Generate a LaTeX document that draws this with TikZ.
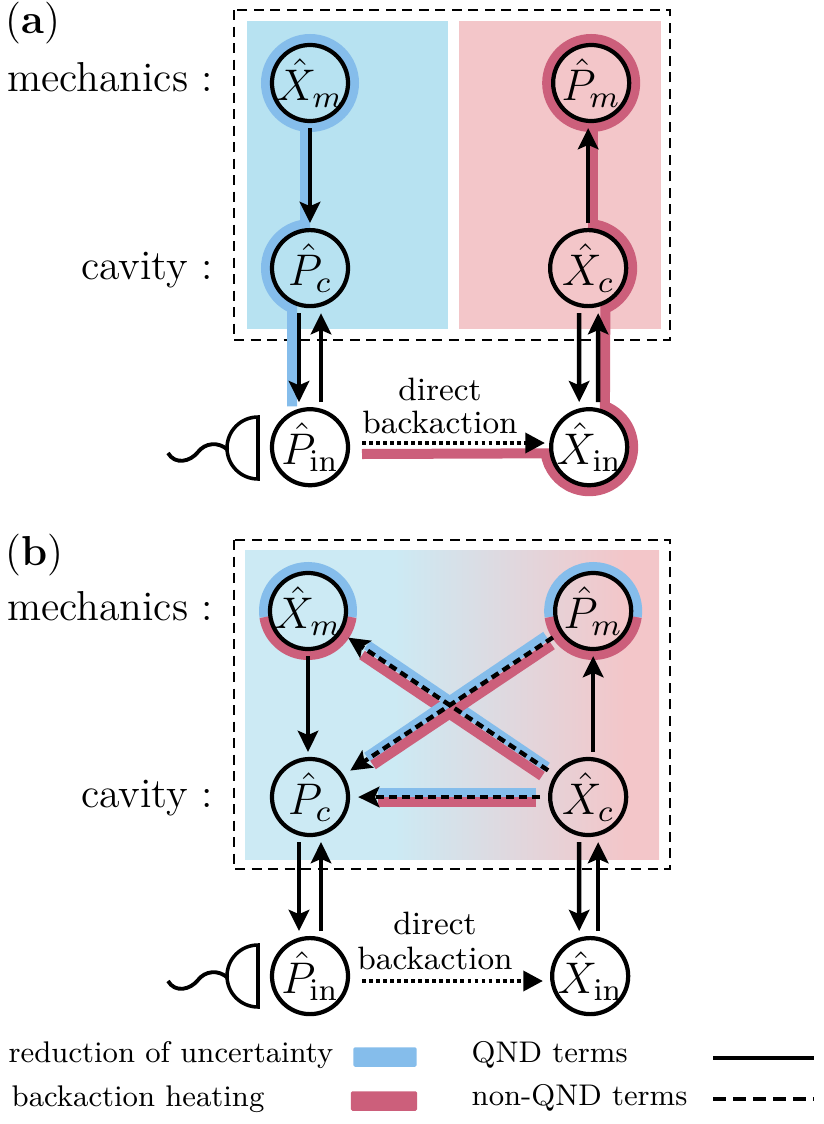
\documentclass[tikz,border=0pt]{standalone}
\usepackage{fix-cm}
\usetikzlibrary{arrows.meta,backgrounds}

\definecolor{bandblue}{HTML}{85BDEB}
\definecolor{bandred}{HTML}{CC5F7B}
\definecolor{lightblue}{HTML}{B7E2F1}
\definecolor{lightred}{HTML}{F3C6C9}
\definecolor{paleblue}{HTML}{CCEAF4}
\pgfdeclarehorizontalshading{bgshade}{100bp}{color(0bp)=(paleblue);color(43bp)=(paleblue);color(71bp)=(lightred);color(100bp)=(lightred)}

\begin{document}
\begin{tikzpicture}[x=0.01cm,y=0.01cm,
    mode/.style={
      draw,
      shape=circle,
      align=center,
      inner sep=-5pt,
      minimum size=0.76cm,
      line width=1.2pt,
      font=\fontsize{12.6}{14}\selectfont
    },
    term/.style={line width=1.25pt,shorten <=1.4pt,shorten >=1.4pt},
    qnd/.style={term,-{Stealth[length=6pt,width=5.8pt,inset=1.2pt]}},
    nonqnd/.style={term,-{Stealth[length=6pt,width=5.8pt,inset=1.2pt]},dash pattern=on 2.3pt off 1.4pt,shorten <=0.08cm,shorten >=0.08cm},
    direct/.style={line width=1.25pt,-{Triangle[length=5.6pt,width=5.6pt]},dash pattern=on 1.1pt off 0.9pt},
    blueband/.style={draw=bandblue,line width=0.1cm},
    redband/.style={draw=bandred,line width=0.1cm},
    frame/.style={draw,line width=0.6pt,dash pattern=on 0.1cm off 0.065cm},
    big/.style={font=\fontsize{11.9}{14}\selectfont,anchor=base east,inner sep=0pt},
    mid/.style={font=\fontsize{9.2}{11}\selectfont,inner sep=0pt},
    small/.style={font=\fontsize{8.5}{10}\selectfont,anchor=base west,inner sep=0pt},
    swatch/.style={shape=rectangle,rounded corners=0.4pt,inner sep=0pt,minimum height=0.195cm}
    ]
    \useasboundingbox (0,0) rectangle (823,-1124);

    % panel a
    \node[mode] (XmA) at (310,-83) {$\hat{X}_m$};
    \node[mode,below of=XmA,node distance=1.85cm] (PcA) {$\hat{P}_c$};
    \node[mode,below of=PcA,node distance=1.79cm] (PinA) {$\hat{P}_{\rm in}$};
    \node[mode,right of=XmA,node distance=2.81cm] (PmA) {$\hat{P}_m$};
    \node[mode,right of=PcA,node distance=2.78cm] (XcA) {$\hat{X}_c$};
    \node[mode,right of=PinA,node distance=2.79cm] (XinA) {$\hat{X}_{\rm in}$};
    \coordinate (DirFromA) at (362,-443);
    \coordinate (DirToA) at (545,-443);
    \coordinate (HeatEndA) at (362,-454);
    \node[inner sep=0pt,anchor=base west,font=\fontsize{11.9}{14}\selectfont] (TagA) at (5,-34) {(\textbf{a})};
    \node[big] (MechA) at (214,-91) {mechanics :};
    \node[big] (CavA) at (214,-279) {cavity :};
    \node[mid] (DirA) at (440,-389) {direct};
    \node[mid] (BackA) at (440,-422) {backaction};
    \draw[qnd] (XmA) -- (PcA);
    \draw[qnd] ([xshift=-0.11cm]PcA.south) -- ([xshift=-0.11cm]PinA.north);
    \draw[qnd] ([xshift=0.11cm]PinA.north) -- ([xshift=0.11cm]PcA.south);
    \draw[qnd] (XcA) -- (XcA |- PmA.south);
    \draw[qnd] ([xshift=-0.09cm]XcA.south) -- ([xshift=-0.1cm]XinA.north);
    \draw[qnd] ([xshift=0.09cm]XinA.north) -- ([xshift=0.1cm]XcA.south);
    \draw[direct] (DirFromA) -- (DirToA);
    \begin{scope}[on background layer]
      \fill[lightblue] (247,-21) rectangle (448,-329);
      \fill[lightred] (459,-21) rectangle (661,-329);
      \draw[frame] (234,-10) rectangle (670,-340);
      \draw[blueband] (XmA) circle (44);
      \draw[blueband] ([xshift=-0.05cm]XmA.south) -- ([xshift=-0.05cm]PcA.north);
      \draw[blueband] ([shift={(90:44)}]PcA.center) arc (90:246:44) -- ++(0,-98);
      \draw[redband] (PmA) circle (44);
      \draw[redband] ([xshift=0.05cm]XcA.north) -- ([xshift=0.02cm]PmA.south);
      \draw[redband] ([shift={(90:44)}]XcA.center) arc (90:-67:44) -- ([shift={(69:44)}]XinA.center) arc (69:-172:44) -- (HeatEndA);
    \end{scope}
    \draw[line width=1pt] (258,-417) -- (258,-479) arc (270:90:31) -- cycle;
    \draw[line width=1.1pt] (168,-453) .. controls (175,-465) and (190,-462) .. (198,-452) .. controls (205,-443) and (218,-441) .. (228,-450);

    % panel b
    \node[mode] (XmB) at (308,-611) {$\hat{X}_m$};
    \node[mode,right of=XmB,node distance=2.85cm] (PmB) {$\hat{P}_m$};
    \node[mode] (PcB) at (310,-797) {$\hat{P}_c$};
    \node[mode,right of=PcB,node distance=2.78cm] (XcB) {$\hat{X}_c$};
    \node[mode,below of=PcB,node distance=1.79cm] (PinB) {$\hat{P}_{\rm in}$};
    \node[mode,right of=PinB,node distance=2.8cm] (XinB) {$\hat{X}_{\rm in}$};
    \coordinate (DirFromB) at (362,-981);
    \coordinate (DirToB) at (543,-981);
    \coordinate (BlueXaB) at (547,-767);
    \coordinate (BlueXbB) at (367,-645);
    \coordinate (RedXaB) at (542,-776);
    \coordinate (RedXbB) at (362,-655);
    \coordinate (BluePaB) at (546,-636);
    \coordinate (BluePbB) at (367,-757);
    \coordinate (RedPaB) at (552,-645);
    \coordinate (RedPbB) at (373,-765);
    \coordinate (BlueHaB) at (536,-793);
    \coordinate (BlueHbB) at (378,-793);
    \coordinate (RedHaB) at (536,-802);
    \coordinate (RedHbB) at (378,-802);
    \node[inner sep=0pt,anchor=base west,font=\fontsize{11.9}{14}\selectfont] (TagB) at (5,-565) {(\textbf{b})};
    \node[big] (MechB) at (214,-620) {mechanics :};
    \node[big] (CavB) at (214,-807) {cavity :};
    \node[mid] (DirB) at (435,-923) {direct};
    \node[mid] (BackB) at (435,-958) {backaction};
    \draw[qnd] (XmB) -- (XmB |- PcB.north);
    \draw[qnd] (XcB.north -| PmB) -- (PmB);
    \draw[qnd] ([xshift=-0.11cm]PcB.south) -- ([xshift=-0.11cm]PinB.north);
    \draw[qnd] ([xshift=0.11cm]PinB.north) -- ([xshift=0.11cm]PcB.south);
    \draw[qnd] ([xshift=-0.09cm]XcB.south) -- ([xshift=-0.11cm]XinB.north);
    \draw[qnd] ([xshift=0.08cm]XinB.north) -- ([xshift=0.1cm]XcB.south);
    \draw[nonqnd] (XcB) -- (XmB);
    \draw[nonqnd] (PmB) -- (PcB);
    \draw[nonqnd] (XcB) -- (PcB);
    \draw[direct] (DirFromB) -- (DirToB);
    \begin{scope}[on background layer]
      \shade[shading=bgshade] (245,-550) rectangle (659,-859);
      \draw[frame] (234,-540) rectangle (670,-869);
      \foreach \nd in {XmB,PmB} {
        \draw[blueband] ([shift={(-8:44)}]\nd.center) arc (-8:188:44);
        \draw[redband] ([shift={(188:44)}]\nd.center) arc (188:352:44);
      }
      \draw[blueband] (BlueXaB) -- (BlueXbB);
      \draw[redband] (RedXaB) -- (RedXbB);
      \draw[blueband] (BluePaB) -- (BluePbB);
      \draw[redband] (RedPaB) -- (RedPbB);
      \draw[blueband] (BlueHaB) -- (BlueHbB);
      \draw[redband] (RedHaB) -- (RedHbB);
    \end{scope}
    \draw[line width=1pt] (258,-945) -- (258,-1007) arc (270:90:31) -- cycle;
    \draw[line width=1.1pt] (168,-981) .. controls (175,-993) and (190,-990) .. (198,-980) .. controls (205,-971) and (218,-969) .. (228,-978);

    % legend
    \node[small] (RedU) at (8,-1062) {reduction of uncertainty};
    \node[small] (Heat) at (11,-1106) {backaction heating};
    \node[small] (Qnd) at (471,-1062) {QND terms};
    \node[small] (Nqnd) at (471,-1105) {non-QND terms};
    \node[swatch,fill=bandblue,minimum width=0.63cm] (SwBlue) at (385,-1057) {};
    \node[swatch,fill=bandred,minimum width=0.66cm] (SwRed) at (384,-1101) {};
    \coordinate (QndL) at (713,-1058);
    \coordinate (QndR) at (814,-1058);
    \coordinate (NqndL) at (713,-1099);
    \coordinate (NqndR) at (814,-1099);
    \draw[line width=1.3pt] (QndL) -- (QndR);
    \draw[line width=1.3pt,dash pattern=on 3.6pt off 2.1pt] (NqndL) -- (NqndR);
  \end{tikzpicture}
\end{document}
